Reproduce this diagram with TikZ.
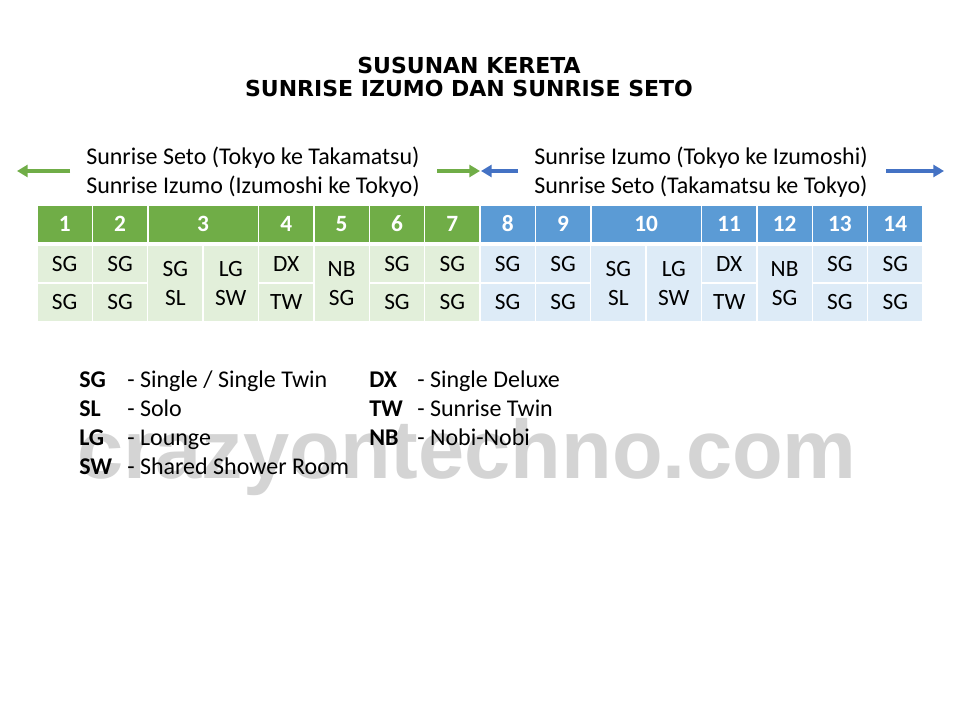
\documentclass[tikz,border=0pt]{standalone}
\usepackage{fontspec}
\setmainfont{Carlito}
\newfontfamily\titlefont{DejaVu Sans}
\newfontfamily\markfont{Liberation Sans}
\usepackage{tikz}
\usetikzlibrary{arrows.meta}
\definecolor{carGreen}{HTML}{70AD47}
\definecolor{carGreenLight}{HTML}{E2EFDA}
\definecolor{carBlue}{HTML}{5B9BD5}
\definecolor{carBlueLight}{HTML}{DDEBF7}
\definecolor{arrowBlue}{HTML}{4472C4}
\definecolor{markGray}{HTML}{D4D4D4}
\tikzstyle{cell} = [inner sep=0pt, minimum width=40.4pt, minimum height=27.4pt, font=\fontsize{17.5}{21.75}\selectfont]
\tikzstyle{headcell} = [cell, minimum height=27pt, text=white, font=\fontsize{17.5}{20}\selectfont\bfseries]
\tikzstyle{widecell} = [minimum width=81.9pt]
\tikzstyle{tallcell} = [minimum height=56.25pt, align=center]
\tikzstyle{gcell} = [cell, fill=carGreenLight]
\tikzstyle{bcell} = [cell, fill=carBlueLight]
\tikzstyle{ghead} = [headcell, fill=carGreen]
\tikzstyle{bhead} = [headcell, fill=carBlue]
\tikzstyle{dirarrow} = [line width=3pt, -{Triangle[length=8pt, width=9pt]}]
\tikzstyle{dirtext} = [anchor=base west, inner sep=0pt, font=\fontsize{18}{22}\selectfont]
\tikzstyle{legkey} = [anchor=base west, inner sep=0pt, font=\fontsize{18}{22}\selectfont\bfseries]
\tikzstyle{legtext} = [anchor=base west, inner sep=0pt, font=\fontsize{18}{22}\selectfont]

\begin{document}
\begin{tikzpicture}[x=0.75pt, y=-0.75pt]
		\fill[white] (0,0) rectangle (960,720);
		% watermark
		\node[anchor=base west, inner sep=0pt, text=markGray, font=\markfont\fontsize{62.25}{70}\selectfont\bfseries] (mark) at (77,478) {crazyontechno.com};
		% title
		\node[inner sep=0pt, align=center, font=\titlefont\fontsize{16.5}{16.9}\selectfont\bfseries] (title) at (469,77) {SUSUNAN KERETA\\SUNRISE IZUMO DAN SUNRISE SETO};
		% direction
		\node[dirtext] (setoL) at (86,165) {Sunrise Seto (Tokyo ke Takamatsu)};
		\node[dirtext] (izumoL) at (86,194) {Sunrise Izumo (Izumoshi ke Tokyo)};
		\node[dirtext] (izumoR) at (534,165) {Sunrise Izumo (Tokyo ke Izumoshi)};
		\node[dirtext] (setoR) at (534,194) {Sunrise Seto (Takamatsu ke Tokyo)};
		\coordinate (gl0) at (70,171);
		\coordinate (gl1) at (17,171);
		\coordinate (gr0) at (437,171);
		\coordinate (gr1) at (480,171);
		\coordinate (bl0) at (518,171);
		\coordinate (bl1) at (481,171);
		\coordinate (br0) at (886,171);
		\coordinate (br1) at (944,171);
		\draw [dirarrow, carGreen] (gl0)--(gl1);
		\draw [dirarrow, carGreen] (gr0)--(gr1);
		\draw [dirarrow, arrowBlue] (bl0)--(bl1);
		\draw [dirarrow, arrowBlue] (br0)--(br1);
		% car numbers
		\node[ghead] (h1) at (64.7,224) {1};
		\node[ghead] (h2) at (120.1,224) {2};
		\node[ghead, widecell] (h3) at (203.1,224) {3};
		\node[ghead] (h4) at (286.2,224) {4};
		\node[ghead] (h5) at (341.6,224) {5};
		\node[ghead] (h6) at (397.0,224) {6};
		\node[ghead] (h7) at (452.3,224) {7};
		\node[bhead] (h8) at (507.7,224) {8};
		\node[bhead] (h9) at (563.1,224) {9};
		\node[bhead, widecell] (h10) at (646.1,224) {10};
		\node[bhead] (h11) at (729.2,224) {11};
		\node[bhead] (h12) at (784.6,224) {12};
		\node[bhead] (h13) at (839.9,224) {13};
		\node[bhead] (h14) at (895.3,224) {14};
		% green cars
		\node[gcell] (c1a) at (64.7,264) {SG};
		\node[gcell] (c1b) at (64.7,302.5) {SG};
		\node[gcell] (c2a) at (120.1,264) {SG};
		\node[gcell] (c2b) at (120.1,302.5) {SG};
		\node[gcell, tallcell] (c3l) at (175.4,283.25) {SG\\SL};
		\node[gcell, tallcell] (c3r) at (230.8,283.25) {LG\\SW};
		\node[gcell] (c4a) at (286.2,264) {DX};
		\node[gcell] (c4b) at (286.2,302.5) {TW};
		\node[gcell, tallcell] (c5) at (341.6,283.25) {NB\\SG};
		\node[gcell] (c6a) at (397.0,264) {SG};
		\node[gcell] (c6b) at (397.0,302.5) {SG};
		\node[gcell] (c7a) at (452.3,264) {SG};
		\node[gcell] (c7b) at (452.3,302.5) {SG};
		% blue cars
		\node[bcell] (c8a) at (507.7,264) {SG};
		\node[bcell] (c8b) at (507.7,302.5) {SG};
		\node[bcell] (c9a) at (563.1,264) {SG};
		\node[bcell] (c9b) at (563.1,302.5) {SG};
		\node[bcell, tallcell] (c10l) at (618.4,283.25) {SG\\SL};
		\node[bcell, tallcell] (c10r) at (673.8,283.25) {LG\\SW};
		\node[bcell] (c11a) at (729.2,264) {DX};
		\node[bcell] (c11b) at (729.2,302.5) {TW};
		\node[bcell, tallcell] (c12) at (784.6,283.25) {NB\\SG};
		\node[bcell] (c13a) at (839.9,264) {SG};
		\node[bcell] (c13b) at (839.9,302.5) {SG};
		\node[bcell] (c14a) at (895.3,264) {SG};
		\node[bcell] (c14b) at (895.3,302.5) {SG};
		% legend
		\node[legkey] (kSG) at (79,387) {SG};
		\node[legtext] (tSG) at (127,387) {- Single / Single Twin};
		\node[legkey] (kSL) at (79,416) {SL};
		\node[legtext] (tSL) at (127,416) {- Solo};
		\node[legkey] (kLG) at (79,445) {LG};
		\node[legtext] (tLG) at (127,445) {- Lounge};
		\node[legkey] (kSW) at (79,474) {SW};
		\node[legtext] (tSW) at (127,474) {- Shared Shower Room};
		\node[legkey] (kDX) at (369,387) {DX};
		\node[legtext] (tDX) at (417,387) {- Single Deluxe};
		\node[legkey] (kTW) at (369,416) {TW};
		\node[legtext] (tTW) at (417,416) {- Sunrise Twin};
		\node[legkey] (kNB) at (369,445) {NB};
		\node[legtext] (tNB) at (417,445) {- Nobi-Nobi};
	\end{tikzpicture}
\end{document}
